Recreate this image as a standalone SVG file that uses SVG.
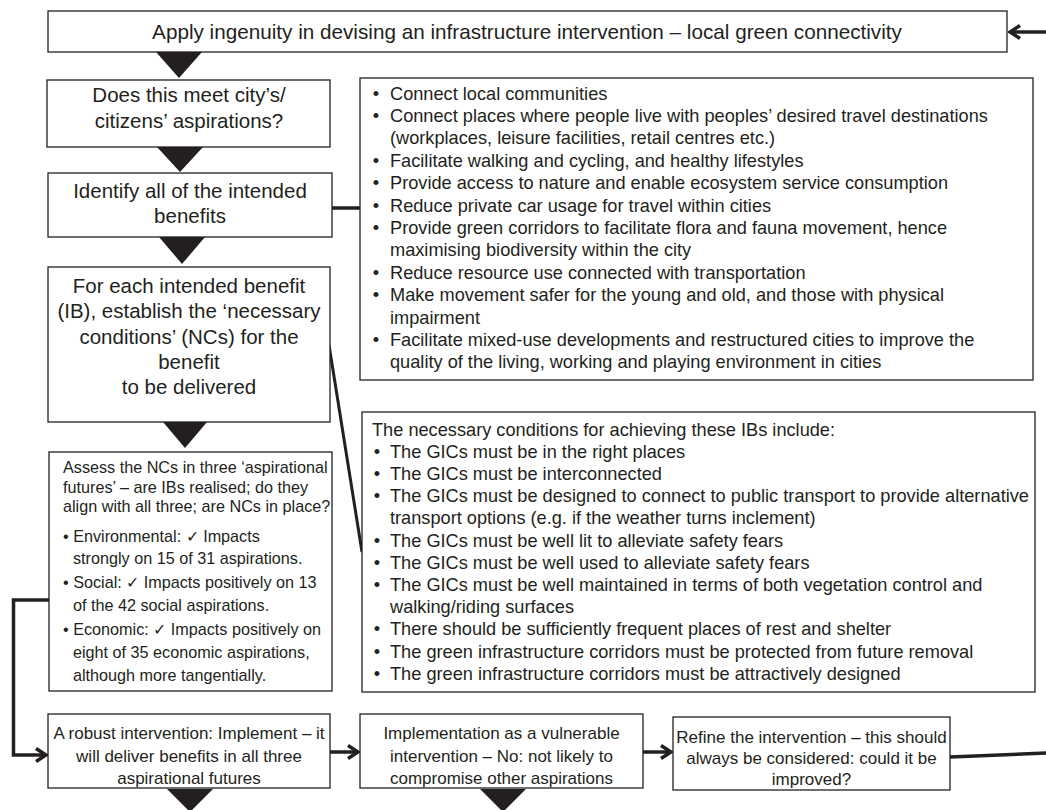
<svg xmlns="http://www.w3.org/2000/svg" width="1046" height="810" viewBox="0 0 1046 810">
<style>
.box{fill:#fff;stroke:#231f20;stroke-width:1.3}
.tri{fill:#231f20}
.conn{fill:none;stroke:#231f20;stroke-width:3.5}
text{font-family:"Liberation Sans",Arial,sans-serif;fill:#231f20}
.big{font-size:20.5px;text-anchor:middle}
.top{font-size:20.7px;text-anchor:middle}
.bl{font-size:18.2px}
.bu{font-size:18.2px;text-anchor:middle}
.as{font-size:16.2px}
.bot{font-size:17px;text-anchor:middle}
</style>
<defs>
<marker id="chev" viewBox="0 0 14 16" refX="12" refY="8" markerWidth="14" markerHeight="16" orient="auto" markerUnits="userSpaceOnUse">
<path d="M2,1.5 L12,8 L2,14.5" fill="none" stroke="#231f20" stroke-width="3.5"/>
</marker>
</defs>
<g id="connectors">
<line class="conn" x1="332" y1="208" x2="360" y2="208"/>
<line class="conn" x1="329" y1="345" x2="362" y2="552" style="stroke-width:3"/>
<path class="conn" d="M50,600 H13.5 V755 H46" marker-end="url(#chev)"/>
<line class="conn" x1="330" y1="752" x2="358" y2="752" marker-end="url(#chev)"/>
<line class="conn" x1="643" y1="752" x2="671" y2="752" marker-end="url(#chev)"/>
<line class="conn" x1="950" y1="757" x2="1046" y2="753"/>
<line class="conn" x1="1046" y1="32" x2="1010" y2="32" marker-end="url(#chev)"/>
<polygon class="tri" points="156,52 202,52 179,78"/>
<polygon class="tri" points="157,147 203,147 180,172"/>
<polygon class="tri" points="159,237 205,237 182,264"/>
<polygon class="tri" points="163,422 207,422 185,448"/>
<polygon class="tri" points="167,789 213,789 190,812"/>
<polygon class="tri" points="480,789 526,789 503,812"/>
</g>
<g id="apply">
<rect class="box" x="48" y="11" width="959" height="41"/>
<text class="top" x="527" y="39">Apply ingenuity in devising an infrastructure intervention – local green connectivity</text>
</g>
<g id="meet">
<rect class="box" x="47" y="80" width="283" height="67"/>
<text class="big" x="189" y="102">Does this meet city’s/</text>
<text class="big" x="189" y="128">citizens’ aspirations?</text>
</g>
<g id="identify">
<rect class="box" x="48" y="173" width="284" height="64"/>
<text class="big" x="190" y="198">Identify all of the intended</text>
<text class="big" x="190" y="223">benefits</text>
</g>
<g id="foreach">
<rect class="box" x="48" y="267" width="282" height="155"/>
<text class="big" x="189" y="293">For each intended benefit</text>
<text class="big" x="189" y="318">(IB), establish the ‘necessary</text>
<text class="big" x="189" y="344">conditions’ (NCs) for the</text>
<text class="big" x="189" y="369">benefit</text>
<text class="big" x="189" y="394">to be delivered</text>
</g>
<g id="assess">
<rect class="box" x="49" y="452" width="283" height="239"/>
<text class="as" x="63" y="473">Assess the NCs in three ‘aspirational</text>
<text class="as" x="63" y="493">futures’ – are IBs realised; do they</text>
<text class="as" x="63" y="512">align with all three; are NCs in place?</text>
<text class="as" x="63" y="542">• Environmental: ✓ Impacts</text>
<text class="as" x="73" y="564">strongly on 15 of 31 aspirations.</text>
<text class="as" x="63" y="588">• Social: ✓ Impacts positively on 13</text>
<text class="as" x="73" y="611">of the 42 social aspirations.</text>
<text class="as" x="63" y="635">• Economic: ✓ Impacts positively on</text>
<text class="as" x="73" y="658">eight of 35 economic aspirations,</text>
<text class="as" x="73" y="681">although more tangentially.</text>
</g>
<g id="benefits">
<rect class="box" x="360" y="78" width="673" height="302"/>
<text class="bu" x="376" y="99.5">•</text><text class="bl" x="390" y="99.5">Connect local communities</text>
<text class="bu" x="376" y="121.9">•</text><text class="bl" x="390" y="121.9">Connect places where people live with peoples’ desired travel destinations</text>
<text class="bl" x="390" y="144.3">(workplaces, leisure facilities, retail centres etc.)</text>
<text class="bu" x="376" y="166.7">•</text><text class="bl" x="390" y="166.7">Facilitate walking and cycling, and healthy lifestyles</text>
<text class="bu" x="376" y="189.1">•</text><text class="bl" x="390" y="189.1">Provide access to nature and enable ecosystem service consumption</text>
<text class="bu" x="376" y="211.5">•</text><text class="bl" x="390" y="211.5">Reduce private car usage for travel within cities</text>
<text class="bu" x="376" y="233.9">•</text><text class="bl" x="390" y="233.9">Provide green corridors to facilitate flora and fauna movement, hence</text>
<text class="bl" x="390" y="256.3">maximising biodiversity within the city</text>
<text class="bu" x="376" y="278.7">•</text><text class="bl" x="390" y="278.7">Reduce resource use connected with transportation</text>
<text class="bu" x="376" y="301.1">•</text><text class="bl" x="390" y="301.1">Make movement safer for the young and old, and those with physical</text>
<text class="bl" x="390" y="323.5">impairment</text>
<text class="bu" x="376" y="345.9">•</text><text class="bl" x="390" y="345.9">Facilitate mixed-use developments and restructured cities to improve the</text>
<text class="bl" x="390" y="368.3">quality of the living, working and playing environment in cities</text>
</g>
<g id="conditions">
<rect class="box" x="362" y="412" width="673" height="280"/>
<text class="bl" x="372" y="435.5">The necessary conditions for achieving these IBs include:</text>
<text class="bu" x="377" y="457.7">•</text><text class="bl" x="390" y="457.7">The GICs must be in the right places</text>
<text class="bu" x="377" y="479.9">•</text><text class="bl" x="390" y="479.9">The GICs must be interconnected</text>
<text class="bu" x="377" y="502.1">•</text><text class="bl" x="390" y="502.1">The GICs must be designed to connect to public transport to provide alternative</text>
<text class="bl" x="390" y="524.3">transport options (e.g. if the weather turns inclement)</text>
<text class="bu" x="377" y="546.5">•</text><text class="bl" x="390" y="546.5">The GICs must be well lit to alleviate safety fears</text>
<text class="bu" x="377" y="568.7">•</text><text class="bl" x="390" y="568.7">The GICs must be well used to alleviate safety fears</text>
<text class="bu" x="377" y="590.9">•</text><text class="bl" x="390" y="590.9">The GICs must be well maintained in terms of both vegetation control and</text>
<text class="bl" x="390" y="613.1">walking/riding surfaces</text>
<text class="bu" x="377" y="635.3">•</text><text class="bl" x="390" y="635.3">There should be sufficiently frequent places of rest and shelter</text>
<text class="bu" x="377" y="657.5">•</text><text class="bl" x="390" y="657.5">The green infrastructure corridors must be protected from future removal</text>
<text class="bu" x="377" y="679.7">•</text><text class="bl" x="390" y="679.7">The green infrastructure corridors must be attractively designed</text>
</g>
<g id="robust">
<rect class="box" x="48" y="714" width="282" height="74"/>
<text class="bot" x="189" y="739">A robust intervention: Implement – it</text>
<text class="bot" x="189" y="762">will deliver benefits in all three</text>
<text class="bot" x="189" y="784">aspirational futures</text>
</g>
<g id="vulnerable">
<rect class="box" x="360" y="714" width="283" height="74"/>
<text class="bot" x="501.5" y="739">Implementation as a vulnerable</text>
<text class="bot" x="501.5" y="762">intervention – No: not likely to</text>
<text class="bot" x="501.5" y="784">compromise other aspirations</text>
</g>
<g id="refine">
<rect class="box" x="673" y="717" width="277" height="73"/>
<text class="bot" x="811.5" y="743">Refine the intervention – this should</text>
<text class="bot" x="811.5" y="764">always be considered: could it be</text>
<text class="bot" x="811.5" y="785">improved?</text>
</g>
</svg>
